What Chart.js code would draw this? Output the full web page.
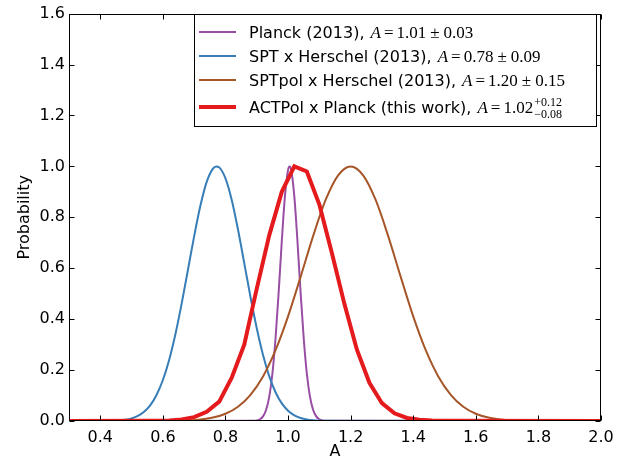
<!DOCTYPE html>
<html><head><meta charset="utf-8">
<script src="https://cdn.jsdelivr.net/npm/chart.js@4/dist/chart.umd.min.js"></script>
<style>html,body{margin:0;padding:0;background:#fff}#wrap{width:634px;height:461px}</style>
</head><body><div id="wrap"><canvas id="c" width="634" height="461"></canvas></div>
<script>
// ---- data ----
const xTickValues = [0.4,0.6,0.8,1.0,1.2,1.4,1.6,1.8,2.0];
const xTickLabels = ['0.4','0.6','0.8','1.0','1.2','1.4','1.6','1.8','2.0'];
const yTickValues = [0,0.2,0.4,0.6,0.8,1.0,1.2,1.4,1.6];
const yTickLabels = ['0.0','0.2','0.4','0.6','0.8','1.0','1.2','1.4','1.6'];

const seriesNames = ['Planck (2013), ','SPT x Herschel (2013), ','SPTpol x Herschel (2013), ','ACTPol x Planck (this work), '];
const seriesMath = [['1.01','0.03'],['0.78','0.09'],['1.20','0.15'],['1.02','+0.12','\u22120.08']];

const planckA = [0.30,0.89,0.90,0.91,0.92,0.93,0.94,0.95,0.96,0.97,0.98,0.99,1.00,1.005,1.01,1.02,1.03,1.04,1.05,1.06,1.07,1.08,1.09,1.10,1.11,1.12,2.00];
const planckP = [0,0.0006,0.0022,0.0066,0.018,0.044,0.096,0.186,0.325,0.506,0.707,0.882,0.986,1.0,0.986,0.882,0.707,0.506,0.325,0.186,0.096,0.044,0.018,0.0066,0.0022,0.0006,0];

const sptA = [0.30,0.40,0.42,0.44,0.46,0.48,0.50,0.52,0.54,0.56,0.58,0.60,0.62,0.64,0.66,0.68,0.70,0.72,0.74,0.76,0.77,0.78,0.80,0.82,0.84,0.86,0.88,0.90,0.92,0.94,0.96,0.98,1.00,1.02,1.04,1.06,1.08,1.10,1.12,2.00];
const sptP = [0,0.0002,0.0005,0.0011,0.0025,0.0052,0.0104,0.0198,0.036,0.062,0.103,0.161,0.240,0.341,0.461,0.593,0.726,0.846,0.939,0.991,1.0,0.996,0.953,0.868,0.752,0.620,0.487,0.364,0.259,0.175,0.113,0.069,0.040,0.022,0.012,0.006,0.0029,0.0013,0.0006,0];

const sptpolA = [0.30,0.56,0.60,0.64,0.68,0.72,0.76,0.80,0.84,0.88,0.92,0.96,1.00,1.04,1.08,1.12,1.16,1.20,1.24,1.28,1.32,1.36,1.40,1.44,1.48,1.52,1.56,1.60,1.64,1.68,1.72,1.76,1.80,1.84,2.00];
const sptpolP = [0,0.0001,0.0003,0.0009,0.0025,0.006,0.0135,0.0286,0.056,0.103,0.175,0.278,0.411,0.566,0.726,0.868,0.965,1.0,0.965,0.868,0.726,0.566,0.411,0.278,0.175,0.103,0.056,0.0286,0.0135,0.006,0.0025,0.0009,0.0003,0.0001,0];

const actpolA = [0.30,0.54,0.58,0.62,0.66,0.70,0.74,0.78,0.82,0.86,0.90,0.94,0.98,1.02,1.06,1.10,1.14,1.18,1.22,1.26,1.30,1.34,1.38,1.42,1.46,1.50,2.00];
const actpolP = [0,0.0005,0.001,0.002,0.006,0.015,0.036,0.076,0.17,0.30,0.52,0.73,0.90,1.00,0.98,0.85,0.66,0.46,0.28,0.15,0.07,0.03,0.012,0.005,0.002,0.001,0];

// ---- styles ----
const colors = ['#984ea3','#377eb8','#a65628','#e41a1c'];
const widths = [2,2,2,4];
const SANS = '"DejaVu Sans", sans-serif';
const SERIF = '"Liberation Serif", serif';

function pts(a,p){return a.map((v,i)=>({x:v,y:p[i]}));}

const frame = {
  id:'frame',
  afterDatasetsDraw(chart){
    const {ctx, chartArea:a, scales:{x,y}} = chart;
    ctx.save();
    ctx.strokeStyle='#000'; ctx.lineWidth=1;
    const L=Math.round(a.left)+0.5, R=Math.round(a.right)-0.5, T=Math.round(a.top)+0.5, B=Math.round(a.bottom)-0.5;
    ctx.strokeRect(L,T,R-L,B-T);
    const tl=5;
    ctx.beginPath();
    xTickValues.forEach(v=>{
      const px=Math.round(x.getPixelForValue(v))+0.5;
      ctx.moveTo(px,B); ctx.lineTo(px,B-tl);
      ctx.moveTo(px,T); ctx.lineTo(px,T+tl);
    });
    yTickValues.forEach(v=>{
      const py=Math.round(y.getPixelForValue(v))+0.5;
      ctx.moveTo(L,py); ctx.lineTo(L+tl,py);
      ctx.moveTo(R,py); ctx.lineTo(R-tl,py);
    });
    ctx.stroke();
    ctx.restore();
  },
  afterDraw(chart){
    const ctx=chart.ctx;
    ctx.save();
    const bx=194.5, by=14.5, bw=402, bh=112;
    ctx.fillStyle='#fff'; ctx.fillRect(bx,by,bw,bh);
    ctx.strokeStyle='#000'; ctx.lineWidth=1; ctx.strokeRect(bx,by,bw,bh);
    const baselines=[38,62,86,113];
    ctx.textBaseline='alphabetic'; ctx.textAlign='left';
    for(let i=0;i<4;i++){
      const b=baselines[i];
      const ly=b-6;
      ctx.strokeStyle=colors[i]; ctx.lineWidth=widths[i];
      ctx.beginPath(); ctx.moveTo(199,ly); ctx.lineTo(236,ly); ctx.stroke();
      ctx.fillStyle='#000';
      ctx.font='16px '+SANS;
      let x=249;
      ctx.fillText(seriesNames[i],x,b);
      x+=ctx.measureText(seriesNames[i]).width+1;
      ctx.font='italic 17px '+SERIF;
      ctx.fillText('A',x,b); x+=ctx.measureText('A').width+3;
      ctx.font='17px '+SERIF;
      ctx.fillText('=',x,b); x+=ctx.measureText('=').width+3;
      const m=seriesMath[i];
      ctx.fillText(m[0],x,b); x+=ctx.measureText(m[0]).width;
      if(m.length===2){
        x+=4; ctx.fillText('\u00b1',x,b); x+=ctx.measureText('\u00b1').width+4;
        ctx.fillText(m[1],x,b);
      } else {
        ctx.font='12px '+SERIF;
        ctx.fillText(m[1],x+1,b-7);
        ctx.fillText(m[2],x+1,b+5);
      }
    }
    ctx.restore();
  }
};

const tickFont={family:SANS,size:16};
new Chart(document.getElementById('c'),{
  type:'line',
  data:{datasets:[
    {label:'Planck (2013)',data:pts(planckA,planckP),borderColor:colors[0],borderWidth:widths[0],cubicInterpolationMode:'monotone',pointRadius:0,order:3},
    {label:'SPT x Herschel (2013)',data:pts(sptA,sptP),borderColor:colors[1],borderWidth:widths[1],cubicInterpolationMode:'monotone',pointRadius:0,order:2},
    {label:'SPTpol x Herschel (2013)',data:pts(sptpolA,sptpolP),borderColor:colors[2],borderWidth:widths[2],cubicInterpolationMode:'monotone',pointRadius:0,order:1},
    {label:'ACTPol x Planck (this work)',data:pts(actpolA,actpolP),borderColor:colors[3],borderWidth:widths[3],tension:0,pointRadius:0,borderJoinStyle:'miter',order:0}
  ]},
  options:{
    responsive:false, animation:false, devicePixelRatio:1,
    layout:{padding:{top:10,right:33,left:0,bottom:0}},
    plugins:{legend:{display:false},tooltip:{enabled:false}},
    scales:{
      x:{type:'linear',min:0.3,max:2.0,
        grid:{display:false,drawTicks:false},border:{display:false},
        afterBuildTicks:s=>{s.ticks=xTickValues.map(v=>({value:v}));},
        afterFit:s=>{s.height=40;},
        ticks:{font:tickFont,color:'#000',padding:7,maxRotation:0,autoSkip:false,
          callback:v=>xTickLabels[xTickValues.indexOf(v)]},
        title:{display:true,text:'A',font:tickFont,color:'#000',padding:{top:0,bottom:0}}
      },
      y:{type:'linear',min:0,max:1.6,
        grid:{display:false,drawTicks:false},border:{display:false},
        afterBuildTicks:s=>{s.ticks=yTickValues.map(v=>({value:v}));},
        afterFit:s=>{s.width=69;},
        ticks:{font:tickFont,color:'#000',padding:4,autoSkip:false,
          callback:v=>yTickLabels[yTickValues.indexOf(v)]},
        title:{display:true,text:'Probability',font:tickFont,color:'#000',padding:{top:15,bottom:0}}
      }
    }
  },
  plugins:[frame]
});
</script></body></html>
